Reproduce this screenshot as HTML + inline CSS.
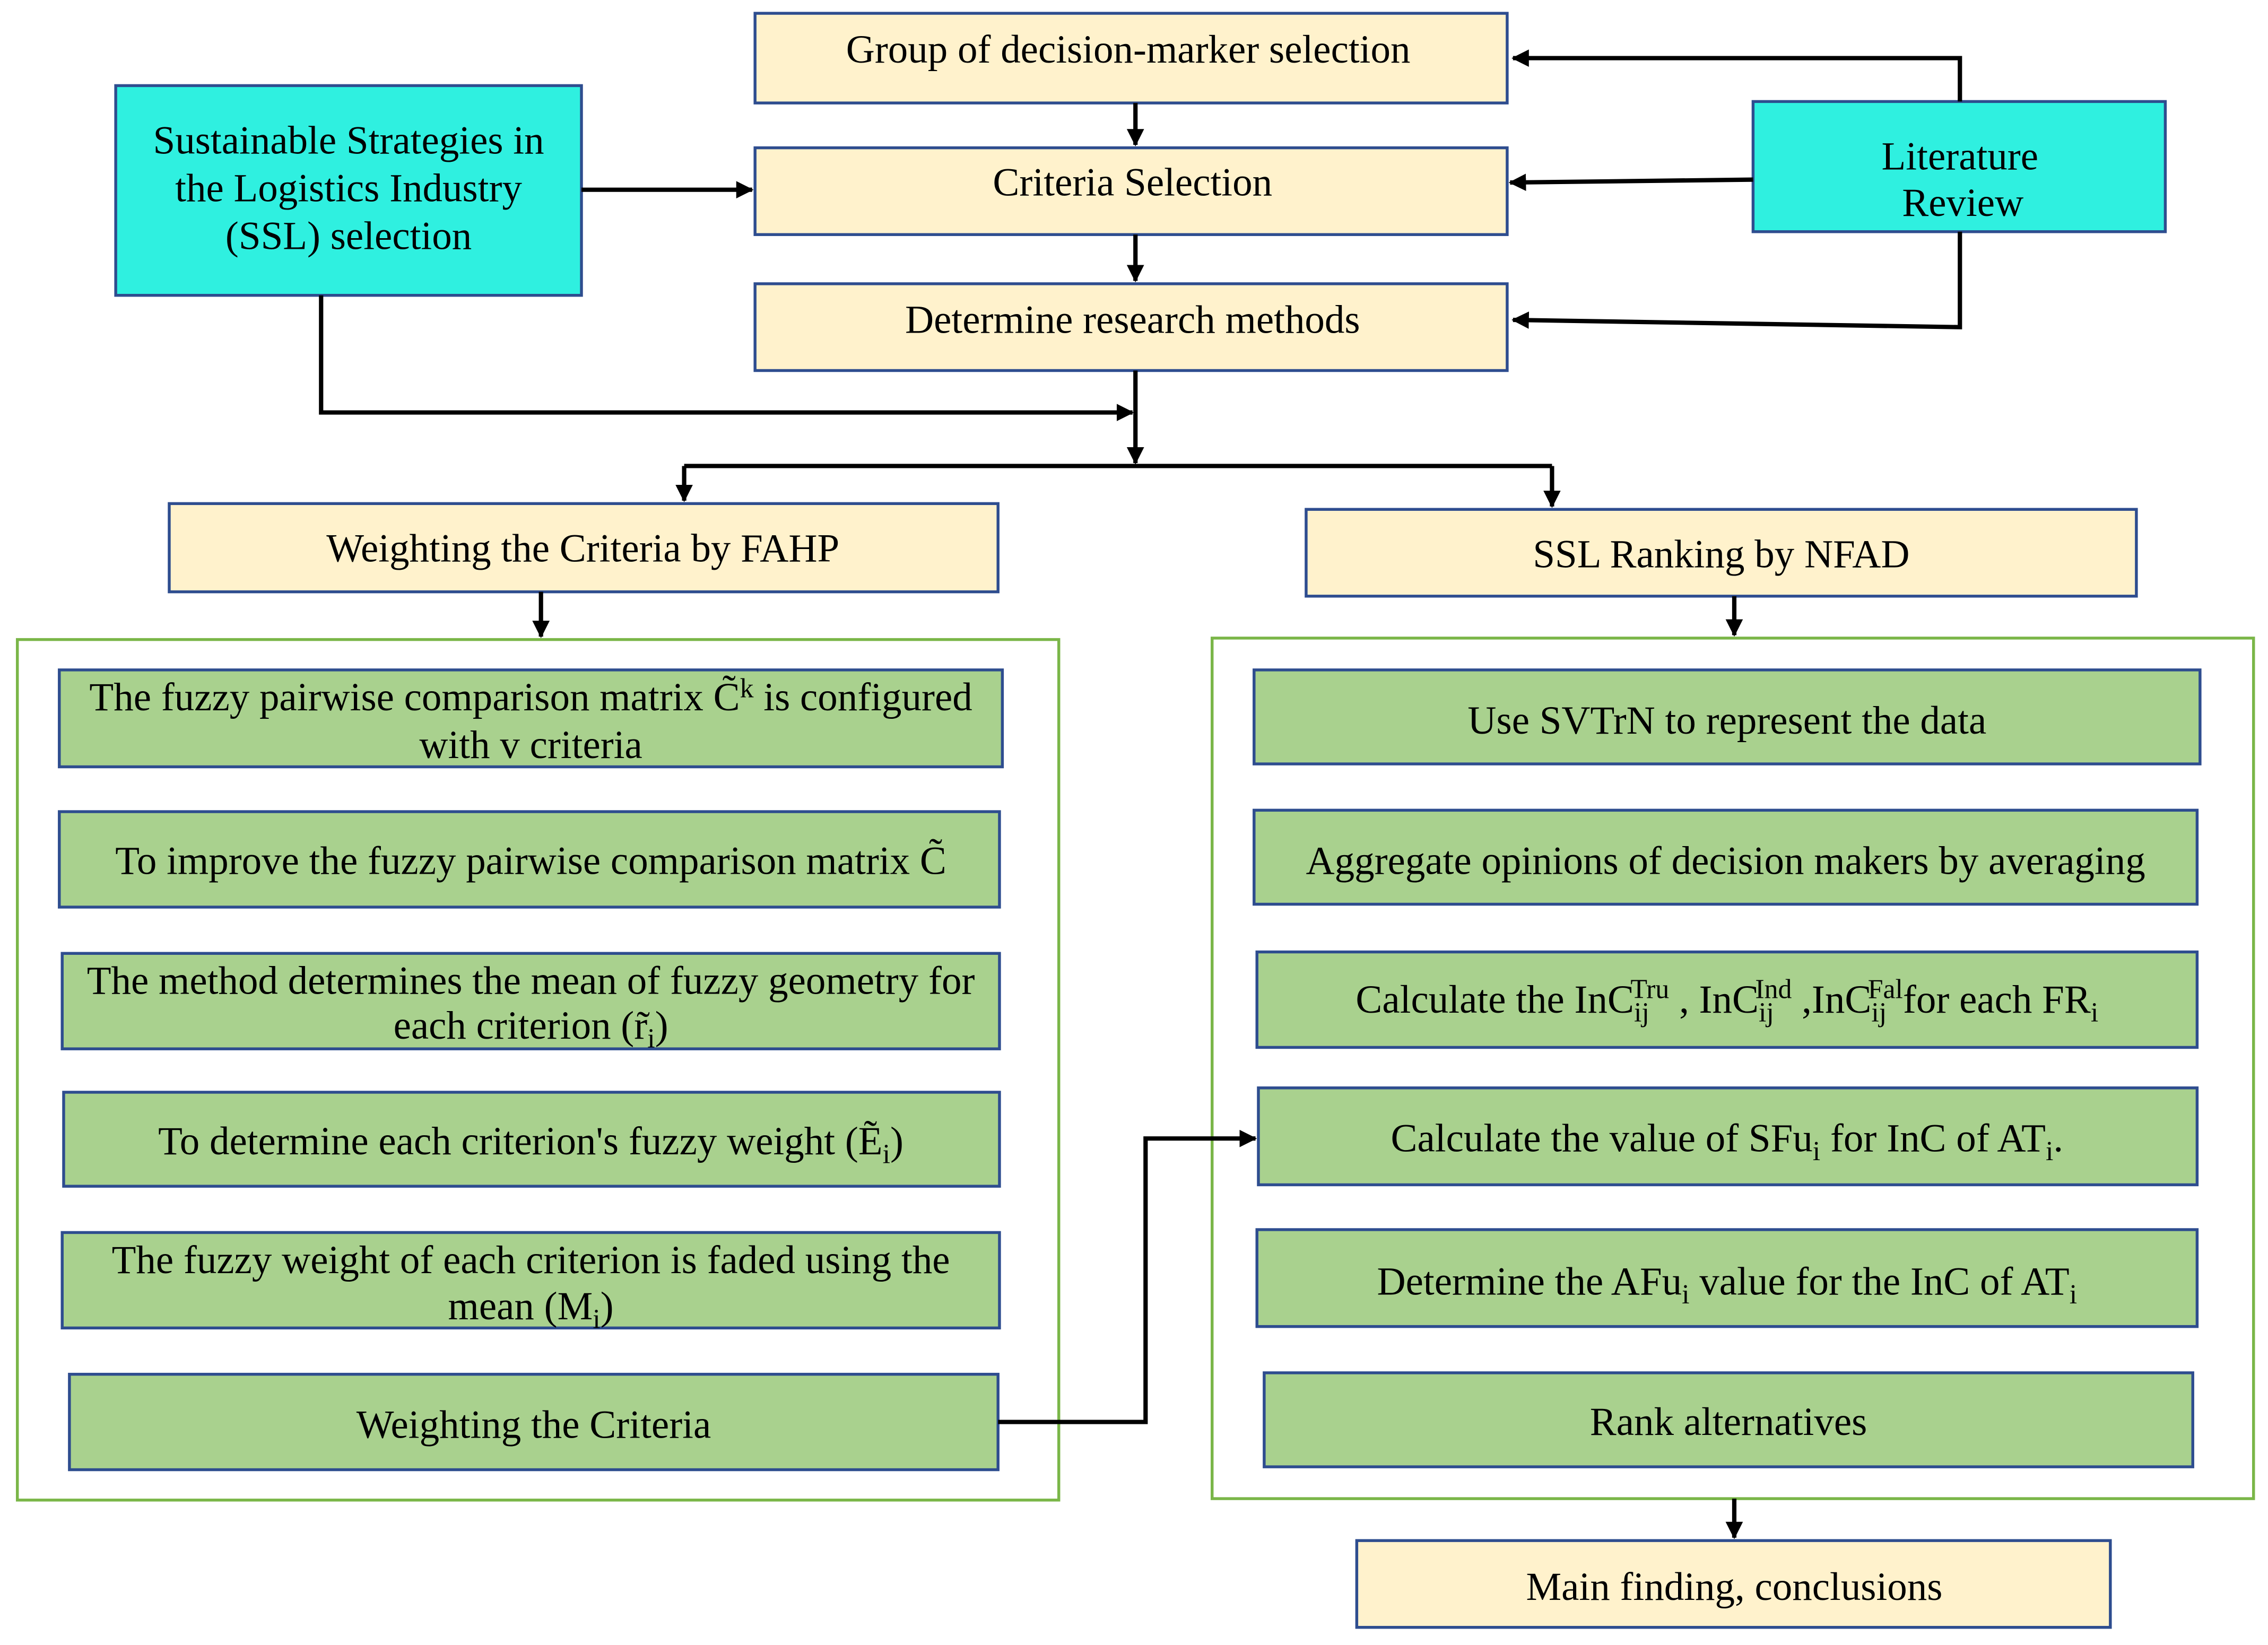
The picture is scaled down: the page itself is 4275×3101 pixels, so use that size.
<!DOCTYPE html>
<html><head><meta charset="utf-8"><style>
html,body{margin:0;padding:0;background:#fff;}
svg{display:block;}
text{font-family:"Liberation Serif",serif;font-size:27.5px;fill:#000;}
</style></head><body>
<svg width="4275" height="3101" viewBox="0 0 1568 1137" xmlns="http://www.w3.org/2000/svg">
<defs><marker id="b" markerWidth="12" markerHeight="12" refX="11" refY="6" orient="auto" markerUnits="userSpaceOnUse"><path d="M0,0 L12,6 L0,12 z" fill="#000"/></marker></defs>
<g stroke="#2e4d8f" stroke-width="2">
<rect x="522" y="9" width="520" height="62" fill="#fff2cc"/>
<rect x="522" y="102" width="520" height="60" fill="#fff2cc"/>
<rect x="522" y="196" width="520" height="60" fill="#fff2cc"/>
<rect x="80" y="59" width="322" height="145" fill="#2ff0e0"/>
<rect x="1212" y="70" width="285" height="90" fill="#2ff0e0"/>
<rect x="117" y="348" width="573" height="61" fill="#fff2cc"/>
<rect x="903" y="352" width="574" height="60" fill="#fff2cc"/>
<rect x="938" y="1065" width="521" height="60" fill="#fff2cc"/>
</g>
<g stroke="#7ab648" stroke-width="2" fill="none">
<rect x="12" y="442" width="720" height="595"/>
<rect x="838" y="441" width="720" height="595"/>
</g>
<g stroke="#2e4d8f" stroke-width="2" fill="#a9d18e">
<rect x="41" y="463" width="652" height="67"/>
<rect x="41" y="561" width="650" height="66"/>
<rect x="43" y="659" width="648" height="66"/>
<rect x="44" y="755" width="647" height="65"/>
<rect x="43" y="852" width="648" height="66"/>
<rect x="48" y="950" width="642" height="66"/>
<rect x="867" y="463" width="654" height="65"/>
<rect x="867" y="560" width="652" height="65"/>
<rect x="869" y="658" width="650" height="66"/>
<rect x="870" y="752" width="649" height="67"/>
<rect x="869" y="850" width="650" height="67"/>
<rect x="874" y="949" width="642" height="65"/>
</g>
<g stroke="#000" stroke-width="3" fill="none" marker-end="url(#b)">
<path d="M785 71 V100"/>
<path d="M785 162 V194"/>
<path d="M402 131 H520"/>
<path d="M1355 70 V40 H1046"/>
<path d="M1212 124 L1044 126"/>
<path d="M1355 160 V226 L1046 221"/>
<path d="M222 204 V285 H783"/>
<path d="M785 256 V320"/>
<path d="M473 322 V346" />
<path d="M1073 322 V350"/>
<path d="M374 409 V440"/>
<path d="M1199 412 V439"/>
<path d="M690 983 H792 V787 H868"/>
<path d="M1199 1036 V1063"/>
</g>
<path d="M473 322 H1073" stroke="#000" stroke-width="3"/>
<g text-anchor="middle">
<text x="780" y="43">Group of decision-marker selection</text>
<text x="783" y="135">Criteria Selection</text>
<text x="783" y="230">Determine research methods</text>
<text x="241" y="106">Sustainable Strategies in</text>
<text x="241" y="139">the Logistics Industry</text>
<text x="241" y="172">(SSL) selection</text>
<text x="1355" y="117">Literature</text>
<text x="1357" y="149">Review</text>
<text x="403" y="388">Weighting the Criteria by FAHP</text>
<text x="1190" y="392">SSL Ranking by NFAD</text>
<text x="1199" y="1106">Main finding, conclusions</text>
<text x="367" y="491">The fuzzy pairwise comparison matrix C̃<tspan dy="-9" font-size="19">k</tspan><tspan dy="9"> is configured</tspan></text>
<text x="367" y="524">with v criteria</text>
<text x="367" y="604">To improve the fuzzy pairwise comparison matrix C̃</text>
<text x="367" y="687">The method determines the mean of fuzzy geometry for</text>
<text x="367" y="718">each criterion (r̃<tspan dy="6" font-size="19">i</tspan><tspan dy="-6">)</tspan></text>
<text x="367" y="798">To determine each criterion's fuzzy weight (Ẽ<tspan dy="6" font-size="19">i</tspan><tspan dy="-6">)</tspan></text>
<text x="367" y="880">The fuzzy weight of each criterion is faded using the</text>
<text x="367" y="912">mean (M<tspan dy="6" font-size="19">i</tspan><tspan dy="-6">)</tspan></text>
<text x="369" y="994">Weighting the Criteria</text>
<text x="1194" y="507">Use SVTrN to represent the data</text>
<text x="1193" y="604">Aggregate opinions of decision makers by averaging</text>
<text x="1194" y="700">Calculate the InC<tspan dy="6" font-size="19">ij</tspan><tspan dx="-13" dy="-16" font-size="19">Tru</tspan><tspan dy="10"> , InC</tspan><tspan dy="6" font-size="19">ij</tspan><tspan dx="-13" dy="-16" font-size="19">Ind</tspan><tspan dy="10"> ,InC</tspan><tspan dy="6" font-size="19">ij</tspan><tspan dx="-13" dy="-16" font-size="19">Fal</tspan><tspan dy="10">for each FR</tspan><tspan dy="6" font-size="19">i</tspan></text>
<text x="1194" y="796">Calculate the value of  SFu<tspan dy="6" font-size="19">i</tspan><tspan dy="-6">  for InC  of AT</tspan><tspan dy="6" font-size="19">i</tspan><tspan dy="-6">.</tspan></text>
<text x="1194" y="895">Determine the  AFu<tspan dy="6" font-size="19">i</tspan><tspan dy="-6"> value for the InC  of AT</tspan><tspan dy="6" font-size="19">i</tspan></text>
<text x="1195" y="992">Rank alternatives</text>
</g>
</svg>
</body></html>
